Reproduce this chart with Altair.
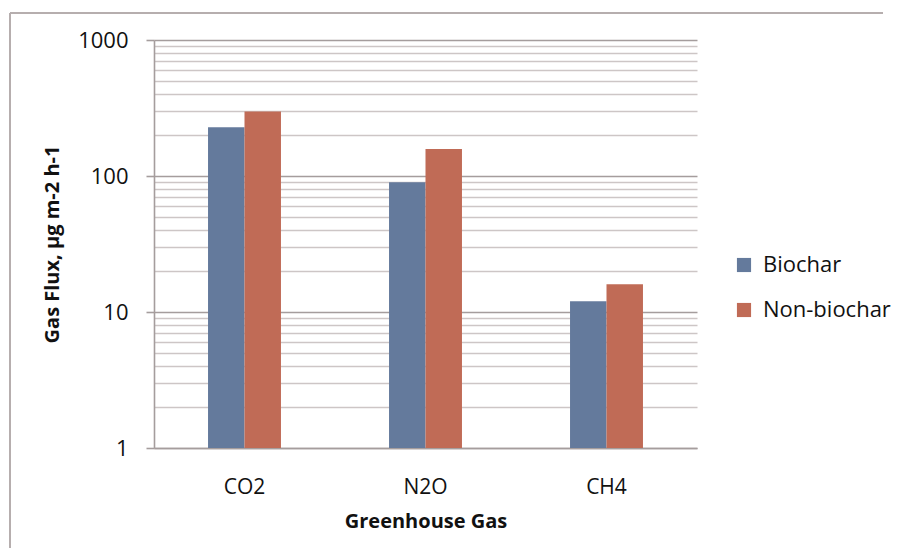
import altair as alt
import pandas as pd

gases = ["CO2", "N2O", "CH4"]
biochar = [228, 90, 12]
non_biochar = [298, 158, 16]
series = ["Biochar", "Non-biochar"]
colors = ["#647a9c", "#c06b56"]
y_grid_values = [1, 2, 3, 4, 5, 6, 7, 8, 9,
                 10, 20, 30, 40, 50, 60, 70, 80, 90,
                 100, 200, 300, 400, 500, 600, 700, 800, 900, 1000]
major_values = [1, 10, 100, 1000]

rows = []
for g, b, n in zip(gases, biochar, non_biochar):
    rows.append({"gas": g, "series": series[0], "flux": b})
    rows.append({"gas": g, "series": series[1], "flux": n})
df = pd.DataFrame(rows)

FONT = "Open Sans"
major_test = "indexof([" + ",".join(str(v) for v in major_values) + "], datum.value) >= 0"
MAJOR = "#a59d9d"
MINOR = "#cdc6c6"

bars = alt.Chart(df).mark_bar().encode(
    x=alt.X(
        "gas:N", sort=gases,
        scale=alt.Scale(paddingInner=0.597, paddingOuter=0.2985),
        axis=alt.Axis(title="Greenhouse Gas", labelAngle=0, ticks=False, grid=False,
                      domainColor=MAJOR, domainWidth=1.5,
                      labelFont=FONT, labelFontSize=21, labelColor="#111111", labelPadding=28,
                      titleFont=FONT, titleFontSize=20, titleFontWeight="bold",
                      titleColor="#111111", titlePadding=14),
    ),
    xOffset=alt.XOffset("series:N", sort=series),
    y=alt.Y(
        "flux:Q",
        scale=alt.Scale(type="log", domain=[1, 1000], nice=False),
        axis=alt.Axis(
            values=y_grid_values, grid=True,
            gridColor={"condition": {"test": major_test, "value": MAJOR}, "value": MINOR},
            gridWidth={"condition": {"test": major_test, "value": 1.6}, "value": 1.3},
            tickColor={"condition": {"test": major_test, "value": MAJOR}, "value": "transparent"},
            tickSize=8, tickWidth=1.6,
            domainColor=MAJOR, domainWidth=1.6,
            labelExpr=major_test + " ? format(datum.value, 'd') : ''",
            labelFont=FONT, labelFontSize=22, labelColor="#111111", labelPadding=18,
            title="Gas Flux, µg m-2 h-1", titleFont=FONT, titleFontSize=20,
            titleFontWeight="bold", titleColor="#111111", titlePadding=15,
        ),
    ),
    y2=alt.datum(1),
    color=alt.Color(
        "series:N", sort=series,
        scale=alt.Scale(domain=series, range=colors),
        legend=alt.Legend(title=None, orient="none", legendX=579, legendY=214,
                          symbolType="square", symbolSize=200, symbolStrokeWidth=0,
                          labelFont=FONT, labelFontSize=22, labelColor="#111111",
                          labelOffset=8, rowPadding=23, padding=0),
    ),
)

left_border = alt.Chart(df).mark_rule(color="#b6aeae", strokeWidth=2, clip=False).encode(
    x=alt.value(-144), y=alt.value(-27), y2=alt.value(700)
)
top_border = alt.Chart(df).mark_rule(color="#b6aeae", strokeWidth=2, clip=False).encode(
    x=alt.value(-144), x2=alt.value(729), y=alt.value(-27)
)

chart = alt.layer(bars, left_border, top_border).properties(
    width=543, height=408,
    autosize=alt.AutoSizeParams(type="none"),
    padding={"left": 146, "top": 32, "right": 194, "bottom": 100},
    background="white",
).configure_view(stroke=None)

chart.save("out.html", embed_options={"renderer": "svg", "actions": False})
